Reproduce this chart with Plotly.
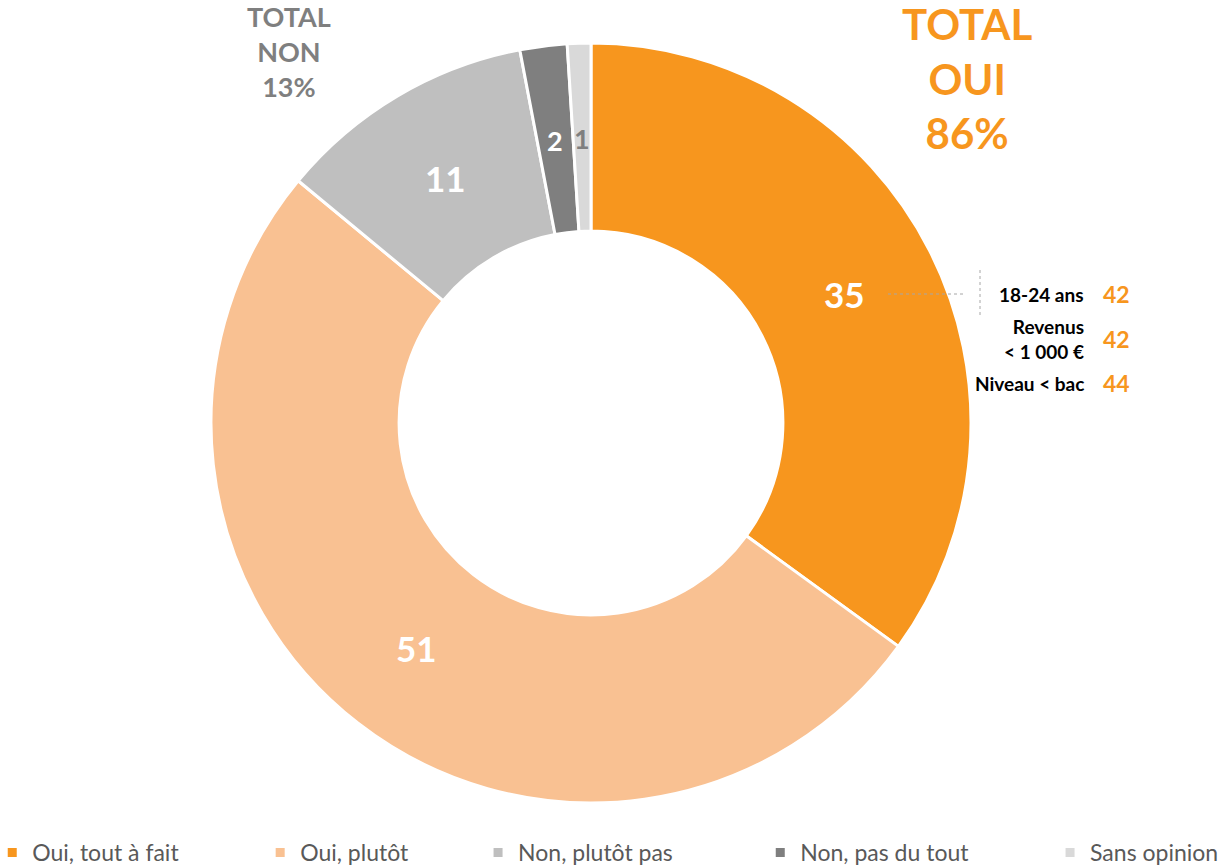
import math
import plotly.graph_objects as go

# Survey answers (percent)
categories = ["Oui, tout à fait", "Oui, plutôt", "Non, plutôt pas", "Non, pas du tout", "Sans opinion"]
values = [35, 51, 11, 2, 1]
colors = ["#F7961E", "#F9C192", "#BFBFBF", "#7F7F7F", "#D9D9D9"]
label_colors = ["white", "white", "white", "white", "#7F7F7F"]
label_sizes = [35, 35, 35, 27, 27]

# Totals shown beside the ring
total_oui = 86
total_non = 13

# Breakdown of "Oui, tout à fait" by sub-group
group_labels = ["18-24 ans", "Revenus<br>&lt; 1 000 €", "Niveau &lt; bac"]
group_values = [42, 42, 44]

W, H = 1232, 868
FONT = "Lato"
ORANGE = "#F7961E"
GREY = "#7F7F7F"

# Page layout: plot area leaves a strip at the bottom for the legend
MB = 37
PH = H - MB

# Ring geometry in pixels
cx, cy = 591, 423
r_out = 380
hole = 0.505
r_lab = 285

# Legend entries are spaced out with trailing no-break spaces
legend_pad = [13, 11, 14, 13, 0]
legend_names = [c + "\u00a0" * n for c, n in zip(categories, legend_pad)]

fig = go.Figure()
fig.add_trace(go.Pie(
    labels=legend_names,
    values=values,
    customdata=categories,
    hovertemplate="%{customdata}: %{value}<extra></extra>",
    marker=dict(colors=colors, line=dict(color="white", width=3)),
    hole=hole,
    sort=False,
    direction="clockwise",
    rotation=0,
    textinfo="none",
    domain=dict(x=[(cx - r_out) / W, (cx + r_out) / W],
                y=[(PH - cy - r_out) / PH, (PH - cy + r_out) / PH]),
))


def to_paper(px, py):
    return px / W, (PH - py) / PH


# Value labels placed at the middle of each slice
total = sum(values)
cum = 0
for v, col, fs in zip(values, label_colors, label_sizes):
    ang = (cum + v / 2) / total * 2 * math.pi
    cum += v
    x, y = to_paper(591 + r_lab * math.sin(ang), 423 - r_lab * math.cos(ang))
    fig.add_annotation(x=x, y=y, xref="paper", yref="paper",
                       text=f"<b>{v}</b>", showarrow=False,
                       font=dict(family=FONT, size=fs, color=col),
                       xanchor="center", yanchor="middle")

# Totals
x, y = to_paper(967, 79)
fig.add_annotation(x=x, y=y, xref="paper", yref="paper",
                   text=f"<b>TOTAL<br>OUI<br>{total_oui}%</b>", showarrow=False,
                   font=dict(family=FONT, size=42, color=ORANGE),
                   align="center", xanchor="center", yanchor="middle")
x, y = to_paper(289, 52)
fig.add_annotation(x=x, y=y, xref="paper", yref="paper",
                   text=f"<b>TOTAL<br>NON<br>{total_non}%</b>", showarrow=False,
                   font=dict(family=FONT, size=27, color=GREY),
                   align="center", xanchor="center", yanchor="middle")

# Sub-group breakdown
rows_y = [294, 339, 383]
for lab, val, yy in zip(group_labels, group_values, rows_y):
    x, y = to_paper(1086, yy)
    fig.add_annotation(x=x, y=y, xref="paper", yref="paper",
                       text=f"<b>{lab}</b>", showarrow=False,
                       font=dict(family=FONT, size=19, color="black"),
                       align="right", xanchor="right", yanchor="middle")
    x, y = to_paper(1116, yy)
    fig.add_annotation(x=x, y=y, xref="paper", yref="paper",
                       text=f"<b>{val}</b>", showarrow=False,
                       font=dict(family=FONT, size=23, color=ORANGE),
                       xanchor="center", yanchor="middle")

# Dotted leader lines
x0, y0 = to_paper(888, 294)
x1, _ = to_paper(965, 294)
fig.add_shape(type="line", xref="paper", yref="paper", x0=x0, x1=x1, y0=y0, y1=y0,
              line=dict(color="#A6A6A6", width=1, dash="dot"))
xv, ya = to_paper(980, 270)
_, yb = to_paper(980, 317)
fig.add_shape(type="line", xref="paper", yref="paper", x0=xv, x1=xv, y0=ya, y1=yb,
              line=dict(color="#A6A6A6", width=1, dash="dot"))

fig.update_layout(
    width=W, height=H,
    margin=dict(l=0, r=0, t=0, b=MB, autoexpand=False),
    paper_bgcolor="white",
    plot_bgcolor="white",
    font=dict(family=FONT),
    showlegend=True,
    legend=dict(orientation="h", x=-0.0063, y=0.0, xanchor="left", yanchor="top",
                font=dict(family=FONT, size=23, color="#595959"),
                bgcolor="rgba(0,0,0,0)", traceorder="normal"),
)

fig.write_html("out.html")
